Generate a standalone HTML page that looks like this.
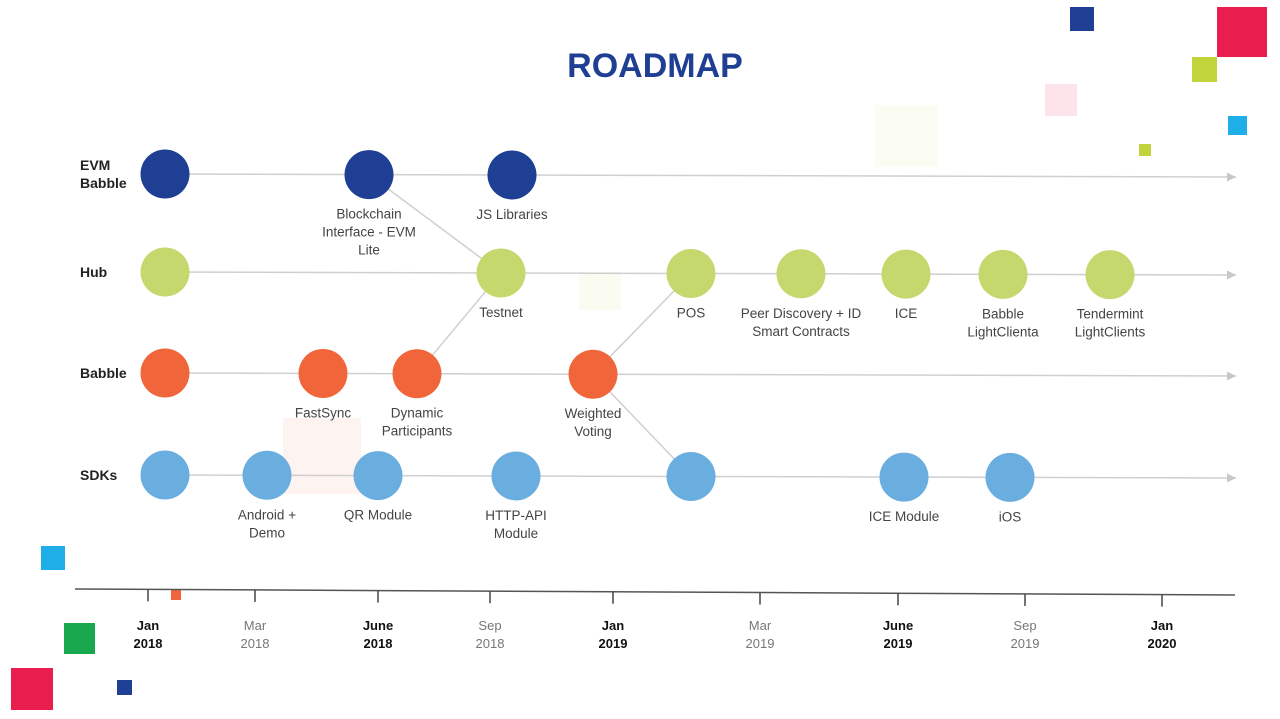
<!DOCTYPE html>
<html><head><meta charset="utf-8"><style>
html,body{margin:0;padding:0;background:#fff;}
svg{display:block;font-family:"Liberation Sans",sans-serif;}
</style></head><body>
<svg id="chart" width="1280" height="719" viewBox="0 0 1280 719">
<g id="deco">
<rect x="1070" y="7" width="24" height="24" fill="#1e3f93"/>
<rect x="1217" y="7" width="50" height="50" fill="#e91e4f"/>
<rect x="1192" y="57" width="25" height="25" fill="#c2d43c"/>
<rect x="1045" y="84" width="32" height="32" fill="#fde4ea"/>
<rect x="875" y="105" width="62" height="62" fill="#fbfcf2"/>
<rect x="1228" y="116" width="19" height="19" fill="#1eaee8"/>
<rect x="1139" y="144" width="12" height="12" fill="#c2d43c"/>
<rect x="579" y="272" width="42" height="38" fill="#fafcf1"/>
<rect x="283" y="418" width="78" height="76" fill="#fdf3f0"/>
<rect x="41" y="546" width="24" height="24" fill="#1eaee8"/>
<rect x="171" y="590" width="10" height="10" fill="#f0663a"/>
<rect x="64" y="623" width="31" height="31" fill="#1aa84f"/>
<rect x="11" y="668" width="42" height="42" fill="#e91e4f"/>
<rect x="117" y="680" width="15" height="15" fill="#1e3f93"/>
</g>
<text x="655" y="77" text-anchor="middle" font-size="34" font-weight="bold" fill="#1e3f93">ROADMAP</text>
<defs><marker id="arr" markerWidth="8" markerHeight="8" refX="6" refY="3" orient="auto"><path d="M0,0 L6,3 L0,6 z" fill="#c8c8c8"/></marker></defs>
<g id="lanes"></g>
<g id="links"></g>
<g id="nodes"></g>
<g id="axis"></g>
</svg>
<script>
const laneNames = ["EVM|Babble","Hub","Babble","SDKs"];
const laneColors = ["#1e3f93","#c5d86d","#f0663a","#6aaee0"];
const laneY = [174,272,373,475];
const evmX = [165,369,512];
const evmLabels = ["","Blockchain|Interface - EVM|Lite","JS Libraries"];
const hubX = [165,501,691,801,906,1003,1110];
const hubLabels = ["","Testnet","POS","Peer Discovery + ID|Smart Contracts","ICE","Babble|LightClienta","Tendermint|LightClients"];
const babbleX = [165,323,417,593];
const babbleLabels = ["","FastSync","Dynamic|Participants","Weighted|Voting"];
const sdkX = [165,267,378,516,691,904,1010];
const sdkLabels = ["","Android +|Demo","QR Module","HTTP-API|Module","","ICE Module","iOS"];
const links = [[0,369,1,501],[2,417,1,501],[2,593,1,691],[2,593,3,691]];
const tickX = [148,255,378,490,613,760,898,1025,1162];
const tickMonths = ["Jan","Mar","June","Sep","Jan","Mar","June","Sep","Jan"];
const tickYears = ["2018","2018","2018","2018","2019","2019","2019","2019","2020"];
const tickBold = [1,0,1,0,1,0,1,0,1];

const NS="http://www.w3.org/2000/svg";
function mk(tag,attrs,parent){const e=document.createElementNS(NS,tag);for(const k in attrs)e.setAttribute(k,attrs[k]);parent.appendChild(e);return e;}
const slope=3/1070;
function yAt(lane,x){return laneY[lane]+(x-165)*slope;}
const lanesG=document.getElementById('lanes'),linksG=document.getElementById('links'),nodesG=document.getElementById('nodes'),axisG=document.getElementById('axis');
const allX=[evmX,hubX,babbleX,sdkX],allL=[evmLabels,hubLabels,babbleLabels,sdkLabels];
laneNames.forEach((n,i)=>{
  const l=mk('line',{x1:165,y1:laneY[i],x2:1236,y2:yAt(i,1236),stroke:"#cfcfcf","stroke-width":1.5,"marker-end":"url(#arr)"},lanesG);
  
  
  const parts=n.split('|');
  const t=mk('text',{x:80,y:laneY[i]+5-(parts.length-1)*9,"font-size":14,"font-weight":"bold",fill:"#222"},lanesG);
  
  
  parts.forEach((p,j)=>{const s=mk('tspan',{x:80,dy:j?18:0},t);s.textContent=p;});
});
links.forEach((k,i)=>{
  const l=mk('line',{x1:k[1],y1:yAt(k[0],k[1]),x2:k[3],y2:yAt(k[2],k[3]),stroke:"#cfcfcf","stroke-width":1.5},linksG);
  
  
});
allX.forEach((xs,i)=>{
  xs.forEach((x,j)=>{
    const y=yAt(i,x);
    const c=mk('circle',{cx:x,cy:y,r:24.5,fill:laneColors[i]},nodesG);
    
    
    const lab=allL[i][j];
    if(lab){
      const t=mk('text',{x:x,y:y+44,"text-anchor":"middle","font-size":13.5,fill:"#444"},nodesG);
      
      
      lab.split('|').forEach((p,q)=>{const s=mk('tspan',{x:x,dy:q?18:0},t);s.textContent=p;});
    }
  });
});
const ax=mk('line',{x1:75,y1:589,x2:1235,y2:595,stroke:"#555","stroke-width":1.5},axisG);


tickX.forEach((x,i)=>{
  const y=589+(x-75)*6/1160;
  const tk=mk('line',{x1:x,y1:y,x2:x,y2:y+12,stroke:"#444","stroke-width":1.5},axisG);
  
  
  const t=mk('text',{x:x,y:630,"text-anchor":"middle","font-size":13,fill:tickBold[i]?"#111":"#777","font-weight":tickBold[i]?"bold":"normal"},axisG);
  
  
  const a=mk('tspan',{x:x,dy:0},t);a.textContent=tickMonths[i];
  const b=mk('tspan',{x:x,dy:18},t);b.textContent=tickYears[i];
});
</script>
</body></html>
